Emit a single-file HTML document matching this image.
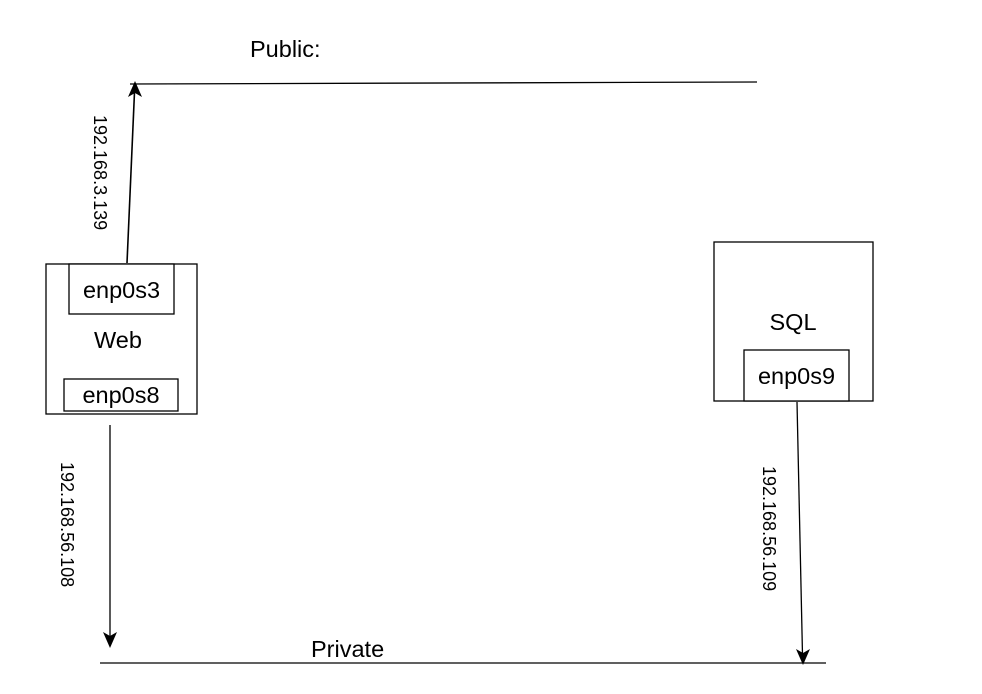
<!DOCTYPE html>
<html><head><meta charset="utf-8"><style>
html,body{margin:0;padding:0;background:#fff;}
svg{display:block;}
text{font-family:"Liberation Sans",Arial,sans-serif;fill:#000;}
</style></head><body>
<svg width="982" height="694" viewBox="0 0 982 694" xmlns="http://www.w3.org/2000/svg">
<g stroke="#000" stroke-width="1.3" fill="none">
<line x1="130" y1="84" x2="757" y2="82"/>
<line x1="127" y1="263" x2="134.5" y2="92" stroke-width="1.6"/>
<line x1="110" y1="425" x2="110" y2="638"/>
<line x1="100" y1="663" x2="826" y2="663"/>
<line x1="797" y1="402" x2="802.5" y2="655"/>
<rect x="46" y="264" width="151" height="150" fill="#fff"/>
<rect x="69" y="264" width="105" height="50" fill="#fff"/>
<rect x="64" y="379" width="114" height="32" fill="#fff"/>
<rect x="714" y="242" width="159" height="159" fill="#fff"/>
<rect x="744" y="350" width="105" height="51" fill="#fff"/>
</g>
<path d="M135,81 L142,97 L135,93 L128,97 Z" fill="#000"/>
<path d="M110,648 L103,632 L110,636 L117,632 Z" fill="#000"/>
<path d="M803,665 L796,649 L803,653 L810,649 Z" fill="#000"/>
<rect x="306" y="638" width="80" height="24" fill="#fff"/>
<text x="250" y="57" font-size="23.5">Public:</text>
<text x="311" y="657" font-size="23.5">Private</text>
<text x="121.5" y="298" font-size="23.5" text-anchor="middle">enp0s3</text>
<text x="118" y="348" font-size="23.5" text-anchor="middle">Web</text>
<text x="121" y="403" font-size="23.5" text-anchor="middle">enp0s8</text>
<text x="793" y="330" font-size="23.5" text-anchor="middle">SQL</text>
<text x="796.5" y="384" font-size="23.5" text-anchor="middle">enp0s9</text>
<text font-size="18" transform="translate(94,115) rotate(90)">192.168.3.139</text>
<text font-size="18" transform="translate(61,462) rotate(90)">192.168.56.108</text>
<text font-size="18" transform="translate(763,466) rotate(90)">192.168.56.109</text>
</svg>
</body></html>
